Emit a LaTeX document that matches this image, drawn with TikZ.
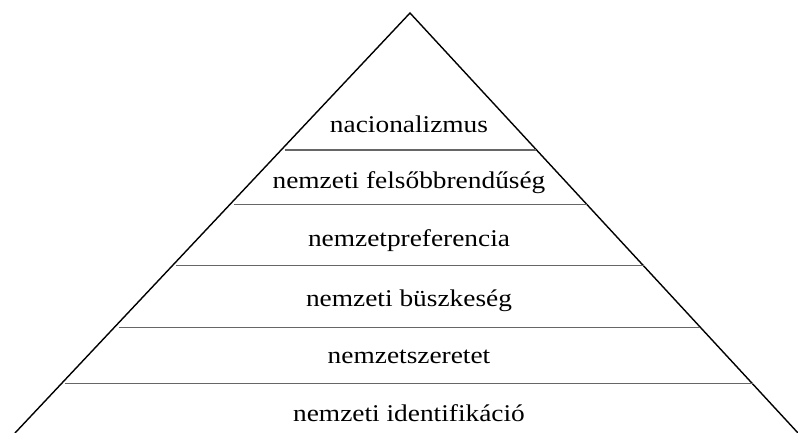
\documentclass[tikz,border=0pt]{standalone}
\usepackage{fontspec}
\setmainfont[FakeStretch=1.14]{Liberation Serif}
\usetikzlibrary{calc}
\begin{document}
\begin{tikzpicture}[x=1pt,y=-1pt,
  side/.style={line width=1.4pt,black},
  level/.style={line width=1.2pt,black!60},
  lbl/.style={font=\fontsize{24}{28}\selectfont,inner sep=0pt,anchor=base}]
\useasboundingbox (0,0) rectangle (798,433);
\coordinate (apex) at (410,13);
\coordinate (bl) at (15,433);
\coordinate (br) at (798,433);
\draw[side] (bl) -- (apex) -- (br);
\foreach \t/\n in {0.326/a,0.455/b,0.602/c,0.748/d,0.883/e}{
  \coordinate (l\n) at ($(apex)!\t!(bl)+(4,0)$);
  \coordinate (r\n) at ($(apex)!\t!(br)$);
  \draw[level] (l\n) -- (r\n);
}
\node[lbl] (n1) at (409,133) {nacionalizmus};
\node[lbl] (n2) at (409,189) {nemzeti felsőbbrendűség};
\node[lbl] (n3) at (409,246) {nemzetpreferencia};
\node[lbl] (n4) at (409,306) {nemzeti büszkeség};
\node[lbl] (n5) at (409,363) {nemzetszeretet};
\node[lbl] (n6) at (409,421) {nemzeti identifikáció};
\end{tikzpicture}
\end{document}
